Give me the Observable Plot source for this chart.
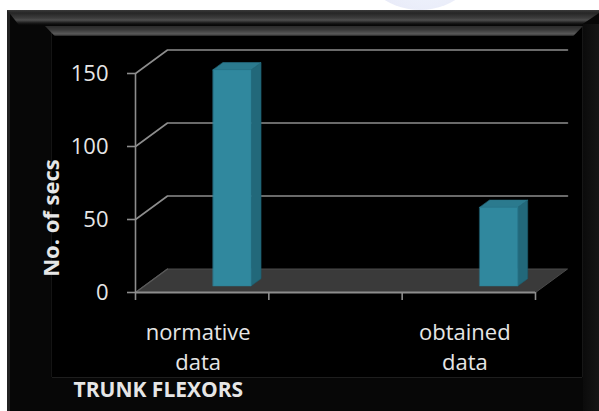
<!DOCTYPE html>
<html>
<head>
<meta charset="utf-8">
<script src="https://cdn.jsdelivr.net/npm/d3@7"></script>
<script src="https://cdn.jsdelivr.net/npm/@observablehq/plot@0.6"></script>
<style>
  html, body { margin: 0; padding: 0; background: #fff; }
  #wrap { position: relative; width: 599px; height: 411px; overflow: hidden; background: #fff; }
  .deco { position: absolute; }
  #glow { left: 355px; top: -115px; width: 130px; height: 125px; border-radius: 50%;
          background: radial-gradient(ellipse at 55% 60%, #f3f9ff 0%, #e8eaf8 60%, #f4f4fd 85%, rgba(255,255,255,0) 100%); }
  #outer { left: 7px; top: 10px; width: 592px; height: 401px; background: #070707; }
  #outerTop { left: 7px; top: 10px; width: 592px; height: 15px;
              background: linear-gradient(to bottom, #3a3a3a 0px, #262626 3px, #3c3c3c 8px, #4e4e4e 10px, #1a1a1a 13px, #070707 15px);
              clip-path: polygon(0 0, 100% 0, 100% 20%, 97% 100%, 2% 100%); }
  #outerLeft { left: 7px; top: 10px; width: 3px; height: 401px; background: #222; }
  #inner { left: 52px; top: 27px; width: 530px; height: 350px; background: #000;
           box-shadow: 0 1px 0 #1e1e1e, 1px 0 0 #161616, -1px 0 0 #141414; }
  #innerTop { left: 45px; top: 26px; width: 538px; height: 10px;
              background: linear-gradient(to bottom, #2a2a2a 0px, #3a3a3a 4px, #5a5a5a 8px, #222 10px);
              clip-path: polygon(0 0, 100% 0, 98.2% 100%, 1.8% 100%); }
  #rightBevel { left: 583px; top: 24px; width: 16px; height: 387px;
                background: linear-gradient(to right, #0b0b0b, #151515); }
  #chart { left: 0; top: 0; }
</style>
</head>
<body>
<div id="wrap">
  <div class="deco" id="glow"></div>
  <div class="deco" id="outer"></div>
  <div class="deco" id="outerLeft"></div>
  <div class="deco" id="rightBevel"></div>
  <div class="deco" id="outerTop"></div>
  <div class="deco" id="inner"></div>
  <div class="deco" id="innerTop"></div>
  <div class="deco" id="chart"></div>
</div>
<script>
// Category slots along the floor (the middle slot is left empty)
const categories = ["normative\ndata", "", "obtained\ndata"];
// Seconds held, one value per slot
const values = [148, null, 53.8];
// Value-axis ticks
const yTicks = [0, 50, 100, 150];
const yLabel = "No. of secs";
const groupTitle = "TRUNK FLEXORS";

// Layout
const W = 599, H = 411;
const ML = 135, MR = 64, MT = 73, MB = 119;
const Y_MAX = 150;
// 3D depth of the plot box, in pixels (towards the upper right)
const DEPTH_X = 32, DEPTH_Y = 23.5;
// Bar placement inside its slot and inside the depth
const BAR_X0 = 0.515, BAR_X1 = 0.8;
const BAR_T0 = 0.28, BAR_T1 = 0.59;

const kx = (W - ML - MR) / categories.length; // px per slot
const ky = (H - MT - MB) / Y_MAX;             // px per second
// Shift a data point back into the depth by fraction t
const back = (x, y, t) => ({x: x + t * DEPTH_X / kx, y: y + t * DEPTH_Y / ky});

// Floor and back-wall grid
const floor = [back(0, 0, 0), back(categories.length, 0, 0), back(categories.length, 0, 1), back(0, 0, 1)];
const grid = yTicks.filter(v => v > 0).flatMap(v => [
  {...back(0, v, 0), g: v}, {...back(0, v, 1), g: v}, {...back(categories.length, v, 1), g: v}
]);

// Bar faces as polygons
const faces = {front: [], side: [], top: []};
values.forEach((v, i) => {
  if (v == null) return;
  const x0 = i + BAR_X0, x1 = i + BAR_X1;
  faces.front.push(...[back(x0, 0, BAR_T0), back(x1, 0, BAR_T0), back(x1, v, BAR_T0), back(x0, v, BAR_T0)].map(p => ({...p, id: i})));
  faces.side.push(...[back(x1, 0, BAR_T0), back(x1, 0, BAR_T1), back(x1, v, BAR_T1), back(x1, v, BAR_T0)].map(p => ({...p, id: i})));
  faces.top.push(...[back(x0, v, BAR_T0), back(x1, v, BAR_T0), back(x1, v, BAR_T1), back(x0, v, BAR_T1)].map(p => ({...p, id: i})));
});

const labels = categories.map((c, i) => ({x: i + 0.5, text: c})).filter(d => d.text);
const gridColor = "#8d8d8d";
const textColor = "#e6e6e6";

const chart = Plot.plot({
  width: W, height: H,
  marginLeft: ML, marginRight: MR, marginTop: MT, marginBottom: MB,
  style: {background: "transparent", color: textColor, fontFamily: "'Open Sans', sans-serif", overflow: "visible"},
  x: {domain: [0, categories.length], axis: null},
  y: {domain: [0, Y_MAX], axis: null},
  marks: [
    Plot.line(floor, {x: "x", y: "y", curve: "linear-closed", fill: "#3a3a3a", stroke: "#4a4a4a", strokeWidth: 1}),
    Plot.line(grid, {x: "x", y: "y", z: "g", stroke: gridColor, strokeWidth: 1.6}),
    Plot.line([back(0, 0, 0), back(0, 0, 1)], {x: "x", y: "y", stroke: "#5a5a5a", strokeWidth: 1.2}),
    Plot.line(faces.side, {x: "x", y: "y", z: "id", curve: "linear-closed", fill: "#22687a", stroke: "#1d5d6d", strokeWidth: 0.6}),
    Plot.line(faces.top, {x: "x", y: "y", z: "id", curve: "linear-closed", fill: "#2b7a8e", stroke: "#2a7488", strokeWidth: 0.6}),
    Plot.line(faces.front, {x: "x", y: "y", z: "id", curve: "linear-closed", fill: "#30889e", stroke: "#2c8097", strokeWidth: 0.6}),
    // Axes
    Plot.ruleX([0], {y1: 0, y2: Y_MAX, stroke: gridColor, strokeWidth: 1.6}),
    Plot.ruleY([0], {x1: 0, x2: categories.length, stroke: gridColor, strokeWidth: 1.8}),
    Plot.axisY({ticks: yTicks, tickSize: 8, tickPadding: 19, tickFormat: d => String(d), fontSize: 22,
                stroke: gridColor, strokeWidth: 1.6, fill: textColor, label: null}),
    Plot.axisX({ticks: d3.range(categories.length + 1), tickSize: 8, tickFormat: () => "",
                stroke: gridColor, strokeWidth: 1.6, label: null}),
    Plot.text(labels, {x: "x", y: 0, text: "text", fontSize: 22, lineHeight: 1.37, lineAnchor: "top",
                       dx: -4, dy: 26, fill: textColor}),
    // Titles
    Plot.text([yLabel], {frameAnchor: "left", textAnchor: "middle", lineAnchor: "middle", rotate: -90,
                         dx: -84, dy: 35, fontSize: 22, fontWeight: "bold", fill: textColor}),
    Plot.text([groupTitle], {frameAnchor: "bottom-left", textAnchor: "start", lineAnchor: "top",
                             dx: -62, dy: 90, fontSize: 21, fontWeight: "bold", fill: textColor})
  ]
});
document.getElementById("chart").appendChild(chart);
</script>
</body>
</html>
